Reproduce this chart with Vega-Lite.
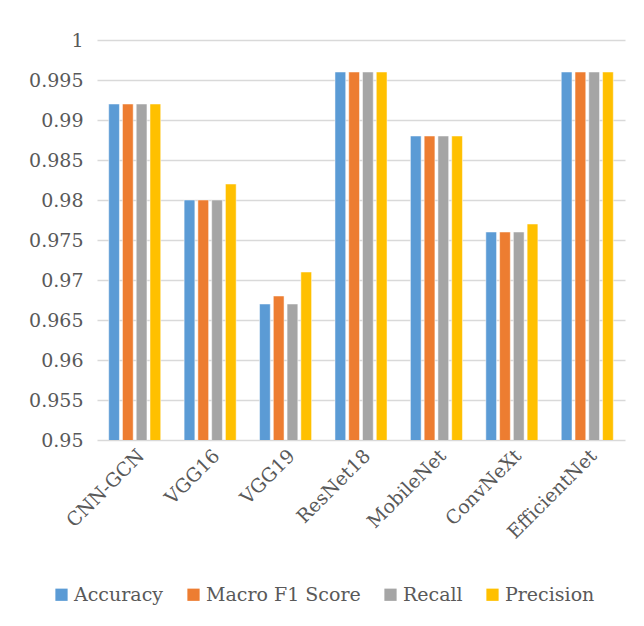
{
  "$schema": "https://vega.github.io/schema/vega-lite/v6.json",
  "width": 528,
  "height": 400,
  "autosize": {"type": "none"},
  "padding": {"left": 97, "top": 40, "right": 19, "bottom": 186},
  "background": "white",
  "config": {
    "view": {"stroke": null},
    "font": "DejaVu Serif"
  },
  "data": {
    "values": [
      {"model": "CNN-GCN", "metric": "Accuracy", "value": 0.992},
      {"model": "CNN-GCN", "metric": "Macro F1 Score", "value": 0.992},
      {"model": "CNN-GCN", "metric": "Recall", "value": 0.992},
      {"model": "CNN-GCN", "metric": "Precision", "value": 0.992},
      {"model": "VGG16", "metric": "Accuracy", "value": 0.980},
      {"model": "VGG16", "metric": "Macro F1 Score", "value": 0.980},
      {"model": "VGG16", "metric": "Recall", "value": 0.980},
      {"model": "VGG16", "metric": "Precision", "value": 0.982},
      {"model": "VGG19", "metric": "Accuracy", "value": 0.967},
      {"model": "VGG19", "metric": "Macro F1 Score", "value": 0.968},
      {"model": "VGG19", "metric": "Recall", "value": 0.967},
      {"model": "VGG19", "metric": "Precision", "value": 0.971},
      {"model": "ResNet18", "metric": "Accuracy", "value": 0.996},
      {"model": "ResNet18", "metric": "Macro F1 Score", "value": 0.996},
      {"model": "ResNet18", "metric": "Recall", "value": 0.996},
      {"model": "ResNet18", "metric": "Precision", "value": 0.996},
      {"model": "MobileNet", "metric": "Accuracy", "value": 0.988},
      {"model": "MobileNet", "metric": "Macro F1 Score", "value": 0.988},
      {"model": "MobileNet", "metric": "Recall", "value": 0.988},
      {"model": "MobileNet", "metric": "Precision", "value": 0.988},
      {"model": "ConvNeXt", "metric": "Accuracy", "value": 0.976},
      {"model": "ConvNeXt", "metric": "Macro F1 Score", "value": 0.976},
      {"model": "ConvNeXt", "metric": "Recall", "value": 0.976},
      {"model": "ConvNeXt", "metric": "Precision", "value": 0.977},
      {"model": "EfficientNet", "metric": "Accuracy", "value": 0.996},
      {"model": "EfficientNet", "metric": "Macro F1 Score", "value": 0.996},
      {"model": "EfficientNet", "metric": "Recall", "value": 0.996},
      {"model": "EfficientNet", "metric": "Precision", "value": 0.996}
    ]
  },
  "mark": {"type": "bar", "clip": true, "stroke": "white", "strokeWidth": 0.5},
  "encoding": {
    "x": {
      "field": "model",
      "type": "nominal",
      "sort": null,
      "title": null,
      "scale": {"paddingInner": 0.31, "paddingOuter": 0.155},
      "axis": {
        "labelAngle": -45,
        "labelFontSize": 19,
        "labelColor": "#595959",
        "labelFont": "DejaVu Serif",
        "labelPadding": 6,
        "ticks": false,
        "domain": false
      }
    },
    "xOffset": {
      "field": "metric",
      "type": "nominal",
      "sort": ["Accuracy", "Macro F1 Score", "Recall", "Precision"],
      "scale": {"paddingInner": 0.22}
    },
    "y": {
      "field": "value",
      "type": "quantitative",
      "title": null,
      "scale": {"domain": [0.95, 1], "zero": false, "nice": false},
      "axis": {
        "values": [0.95, 0.955, 0.96, 0.965, 0.97, 0.975, 0.98, 0.985, 0.99, 0.995, 1],
        "format": "~g",
        "labelFontSize": 19,
        "labelColor": "#595959",
        "labelFont": "DejaVu Serif",
        "labelPadding": 14,
        "ticks": false,
        "domain": false,
        "grid": true,
        "gridColor": "#d9d9d9",
        "gridWidth": 1.5
      }
    },
    "color": {
      "field": "metric",
      "type": "nominal",
      "sort": ["Accuracy", "Macro F1 Score", "Recall", "Precision"],
      "scale": {
        "domain": ["Accuracy", "Macro F1 Score", "Recall", "Precision"],
        "range": ["#5B9BD5", "#ED7D31", "#A5A5A5", "#FFC000"]
      },
      "legend": {
        "title": null,
        "orient": "none",
        "direction": "horizontal",
        "legendX": -45,
        "legendY": 545,
        "symbolType": "square",
        "symbolSize": 150,
        "symbolStrokeWidth": 0,
        "labelFontSize": 19,
        "labelFont": "DejaVu Serif",
        "labelColor": "#595959",
        "labelOffset": 3,
        "columnPadding": 20
      }
    }
  }
}
